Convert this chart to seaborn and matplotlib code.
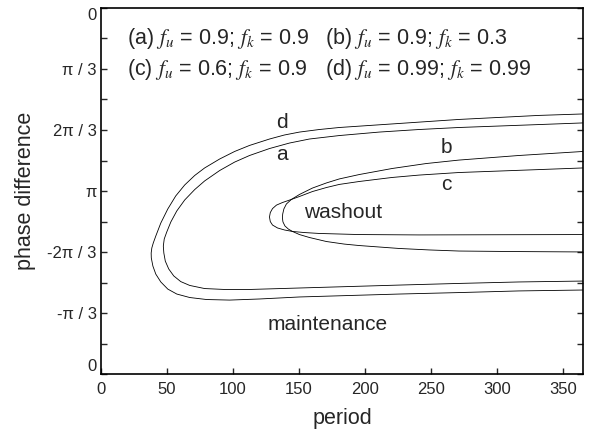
import numpy as np
import pandas as pd
import matplotlib
matplotlib.use("Agg")
import matplotlib.pyplot as plt
from matplotlib.ticker import FixedLocator
import seaborn as sns

# 闭合曲线点：period 与 phase（以 π 为单位，0 在上方）
d_period = [365, 331.5, 301.3, 271.1, 248.4, 225.8, 203.1, 180.5, 165.4, 150.3, 138.9, 127.6, 112.5,
            101.2, 89.9, 78.5, 71.0, 63.4, 56.6, 50.6, 45.3, 41.5, 39.6, 38.5, 38.0,
            38.1, 39.3, 41.5, 45.3, 50.6, 57.4, 67.2, 80.0, 97.4, 120.1, 150.3, 188.0, 225.8,
            271.1, 316.4, 365]
d_phase = [0.579, 0.587, 0.598, 0.609, 0.620, 0.631, 0.642, 0.653, 0.664, 0.678, 0.694, 0.716, 0.751,
           0.784, 0.825, 0.874, 0.915, 0.967, 1.027, 1.098, 1.175, 1.246, 1.284, 1.311, 1.339,
           1.366, 1.410, 1.454, 1.497, 1.536, 1.563, 1.582, 1.593, 1.596, 1.590, 1.579, 1.571, 1.563,
           1.555, 1.546, 1.541]

a_period = [365, 331.5, 301.3, 271.1, 240.9, 210.7, 180.5, 157.8, 142.7, 127.6, 112.5, 101.2, 89.9,
            78.5, 71.0, 63.4, 57.4, 52.9, 49.8, 47.9, 47.2,
            47.6, 48.7, 51.3, 55.1, 60.4, 67.2, 78.5, 93.6, 112.5, 150.3, 188.0, 225.8, 271.1,
            316.4, 365]
a_phase = [0.628, 0.637, 0.645, 0.653, 0.664, 0.678, 0.697, 0.716, 0.738, 0.768, 0.806, 0.842, 0.888,
           0.945, 0.992, 1.049, 1.109, 1.169, 1.224, 1.262, 1.301,
           1.339, 1.383, 1.426, 1.464, 1.495, 1.516, 1.533, 1.538, 1.538, 1.530, 1.522, 1.514, 1.505,
           1.497, 1.492]

b_period = [365, 316.4, 271.1, 246.2, 220.5, 195.6, 180.5, 170.7, 160.1, 150.3, 144.2, 140.4, 138.5,
            137.6, 137.4, 137.8, 139.3, 141.9, 145.0, 150.3, 157.8, 170.7, 184.2, 195.6, 210.7,
            225.8, 248.4, 271.1, 316.4, 365]
b_phase = [0.784, 0.806, 0.831, 0.850, 0.877, 0.910, 0.934, 0.956, 0.984, 1.019, 1.046, 1.071, 1.098,
           1.126, 1.148, 1.169, 1.191, 1.208, 1.221, 1.238, 1.254, 1.276, 1.290, 1.298, 1.306,
           1.314, 1.322, 1.328, 1.331, 1.333]

c_period = [365, 331.5, 301.3, 271.1, 240.9, 220.5, 195.6, 180.5, 170.7, 160.1, 150.3, 144.2, 137.4,
            132.9, 129.9, 128.2, 127.6, 128.2, 129.9, 133.7, 139.0, 145.0, 154.0, 165.4, 195.6,
            240.9, 301.3, 365]
c_phase = [0.874, 0.883, 0.891, 0.899, 0.913, 0.926, 0.948, 0.964, 0.981, 1.003, 1.030, 1.046, 1.063,
           1.077, 1.096, 1.118, 1.142, 1.167, 1.186, 1.202, 1.213, 1.221, 1.227, 1.232, 1.238,
           1.240, 1.239, 1.238]

y_tick_labels = ["0", "π / 3", "2π / 3", "π", "-2π / 3", "-π / 3", "0"]
x_ticks = [0, 50, 100, 150, 200, 250, 300, 350]

legend_lines = [
    [r"(a) $f_u$ = 0.9; $f_k$ = 0.9", r"(b) $f_u$ = 0.9; $f_k$ = 0.3"],
    [r"(c) $f_u$ = 0.6; $f_k$ = 0.9", r"(d) $f_u$ = 0.99; $f_k$ = 0.99"],
]

# 曲线标签位置 (period, phase/π)
curve_labels = {"d": (137.4, 0.623), "a": (137.4, 0.803), "b": (261.3, 0.765), "c": (261.3, 0.967)}

sns.set_theme(style="ticks")
plt.rcParams["font.family"] = ["Liberation Sans", "DejaVu Sans"]
plt.rcParams["mathtext.fontset"] = "stix"

fig = plt.figure(figsize=(5.93, 4.34), dpi=100)
ax = fig.add_axes([0.1703, 0.1382, 0.8128, 0.8434])

for px, ph in [(d_period, d_phase), (a_period, a_phase), (b_period, b_phase), (c_period, c_phase)]:
    df = pd.DataFrame({"period": px, "phase": np.array(ph) * np.pi})
    sns.lineplot(data=df, x="period", y="phase", sort=False, estimator=None,
                 color="black", linewidth=0.6, ax=ax)

ax.set_xlim(0, 365)
ax.set_ylim(2 * np.pi, 0)

ax.set_xticks(x_ticks)
ax.set_xticklabels([str(v) for v in x_ticks])
ax.set_yticks([k * np.pi / 3 for k in range(7)])
ax.set_yticklabels(y_tick_labels)
ax.yaxis.set_minor_locator(FixedLocator([(2 * k + 1) * np.pi / 6 for k in range(6)]))

ax.tick_params(axis="x", which="both", direction="in", length=4, width=1, labelsize=12, pad=6,
               top=False, bottom=True)
ax.tick_params(axis="y", which="both", direction="in", length=4, width=1, labelsize=12, pad=3,
               left=True, right=True)
ylabels = ax.get_yticklabels()
ylabels[0].set_va("top")
ylabels[-1].set_va("bottom")
for s in ax.spines.values():
    s.set_linewidth(1.2)
    s.set_color("black")

ax.set_xlabel("period", fontsize=15.5, labelpad=8)
ax.set_ylabel("phase difference", fontsize=15.5, labelpad=8)

for i, row in enumerate(legend_lines):
    yy = 0.902 - i * 0.085
    ax.text(0.054, yy, row[0], transform=ax.transAxes, fontsize=15.5, va="baseline", ha="left")
    ax.text(0.465, yy, row[1], transform=ax.transAxes, fontsize=15.5, va="baseline", ha="left")

for name, (px, ph) in curve_labels.items():
    ax.text(px, ph * np.pi, name, fontsize=15, ha="center", va="center")

ax.text(154, 1.115 * np.pi, "washout", fontsize=15, ha="left", va="center")
ax.text(126, 1.732 * np.pi, "maintenance", fontsize=15, ha="left", va="center")

fig.savefig("out.png", dpi=100)
